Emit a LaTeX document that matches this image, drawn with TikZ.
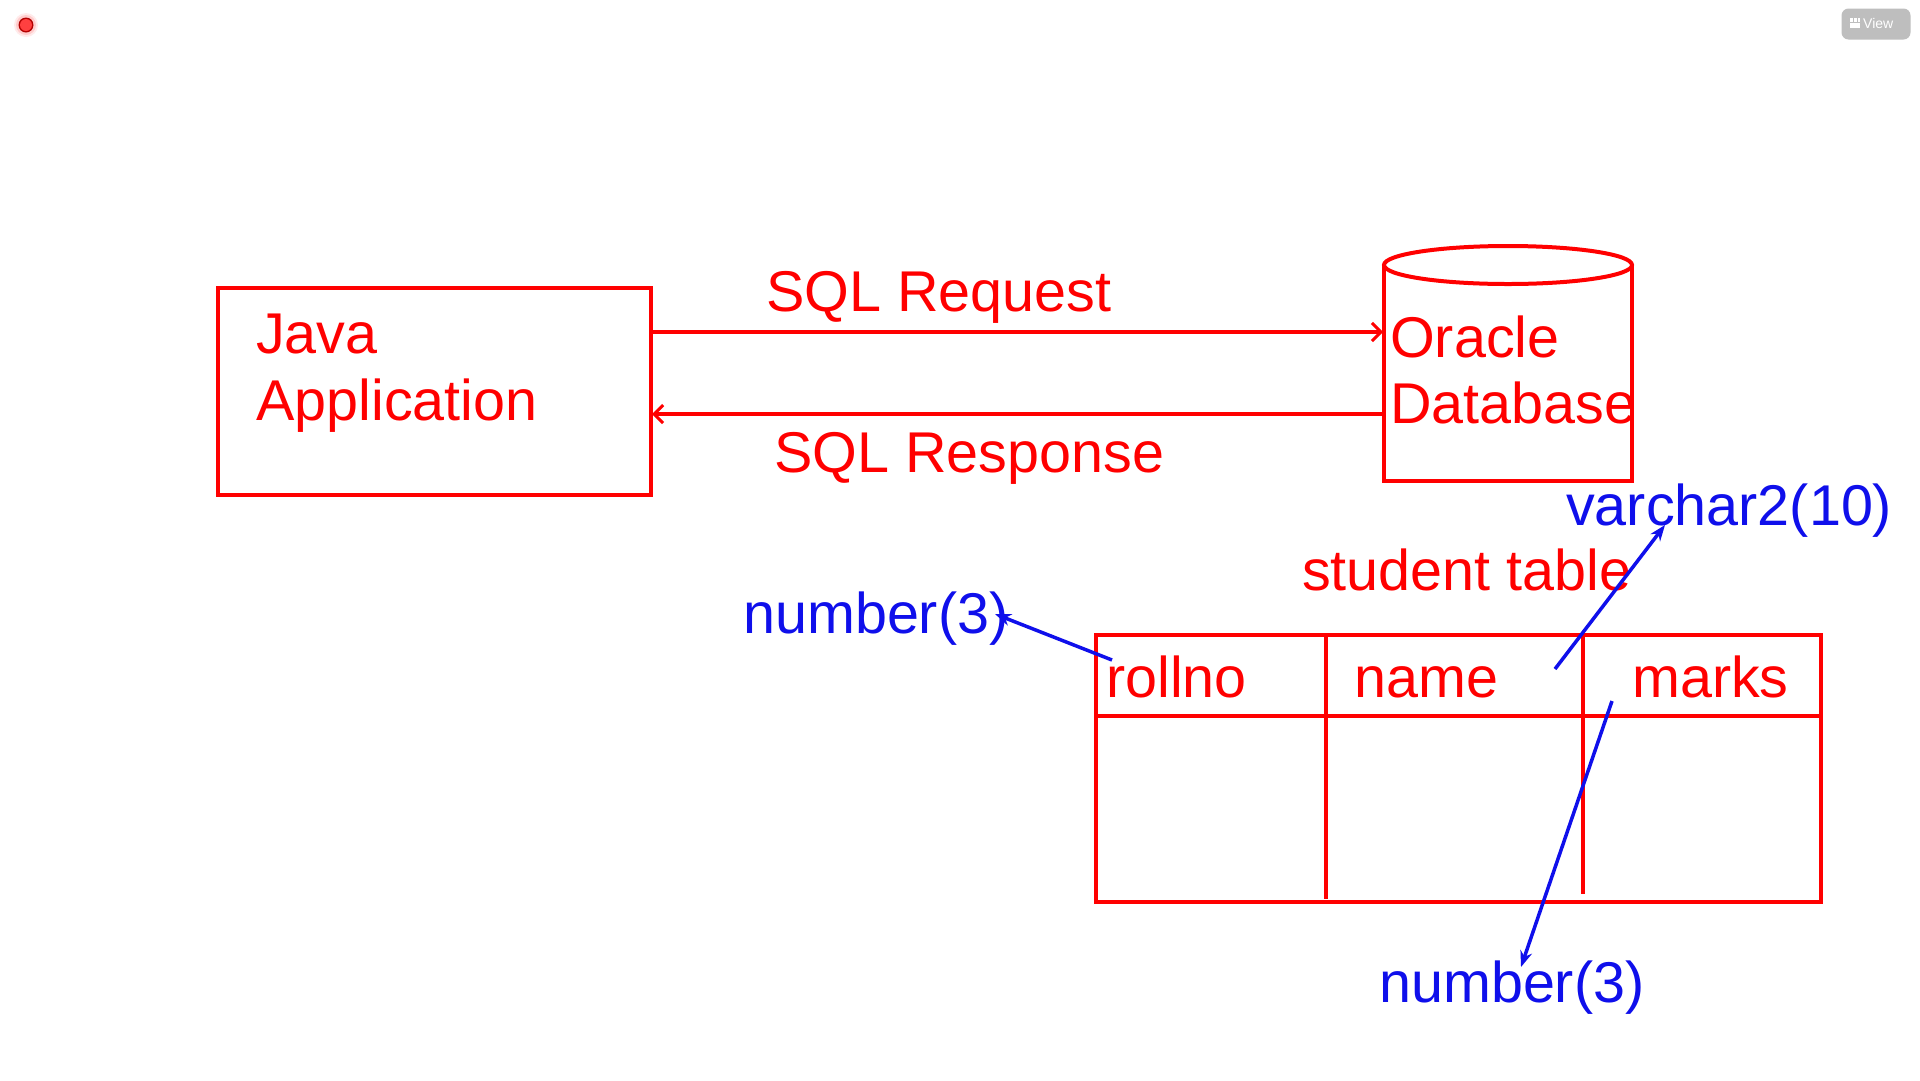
\documentclass[tikz,border=0pt]{standalone}
\usepackage{fontspec}
\setmainfont{Liberation Sans}
\usetikzlibrary{arrows.meta,calc}
\definecolor{dred}{RGB}{255,0,0}
\definecolor{dblue}{RGB}{15,15,235}
\definecolor{btngray}{RGB}{190,190,190}
\begin{document}
\begin{tikzpicture}[x=1pt,y=-1pt,
  redline/.style={draw=dred,line width=4pt},
  blueline/.style={draw=dblue,line width=3.5pt},
  redarrow/.style={redline,-{Straight Barb[length=9pt,width=18pt,line width=3pt]}},
  bluearrow/.style={blueline,-{Stealth[length=16pt,width=12pt]}},
  lbl/.style={anchor=base west,inner sep=0pt,font=\fontsize{57.5}{67}\selectfont},
  redlbl/.style={lbl,text=dred},
  bluelbl/.style={lbl,text=dblue}]
\useasboundingbox (0,0) rectangle (1920,1080);
\fill[white] (0,0) rectangle (1920,1080);
% window decorations
\fill[red!8] (26,25) circle (12);
\fill[red!20] (26,25) circle (10);
\fill[red!70!black] (26,25) circle (7.5);
\fill[red!75!white] (26,25) circle (6);
\node[fill=btngray,rounded corners=7pt,minimum width=69pt,minimum height=31pt,inner sep=0pt] (viewbtn) at (1876,24) {};
\node[anchor=west,inner sep=0pt,text=white,font=\fontsize{14}{16}\selectfont] (viewtxt) at (1863,23) {View};
\fill[white] (1850,18) rectangle (1860,28);
\fill[btngray] (1853,18) rectangle (1853.8,21.5);
\fill[btngray] (1856.5,18) rectangle (1857.3,21.5);
\fill[btngray] (1850,21.5) rectangle (1860,22.3);
% Java application box
\node[redline,rectangle,anchor=north west,minimum width=433pt,minimum height=207pt,inner sep=0pt] (java) at (216,285.5) {};
\node[redlbl] (javat1) at (256,353) {Java};
\node[redlbl] (javat2) at (256,420) {Application};
% Oracle database cylinder
\coordinate (dbtl) at (1384,265);
\coordinate (dbbr) at (1632,481);
\draw[redline] (dbtl) -- (1384,481) -- (dbbr) -- (1632,265);
\draw[redline] (1508,265) ellipse (124 and 19);
\node[redlbl] (oracle) at (1390,357) {Oracle};
\node[redlbl] (database) at (1390,423) {Database};
% request / response
\coordinate (reqS) at (651,332);
\coordinate (reqE) at (1383,332);
\coordinate (resS) at (1384,414);
\coordinate (resE) at (652,414);
\draw[redarrow] (reqS) -- (reqE);
\draw[redarrow] (resS) -- (resE);
\node[redlbl] (sqlreq) at (766,311) {SQL Request};
\node[redlbl] (sqlres) at (774,472) {SQL Response};
% student table
\node[redlbl] (stable) at (1302,590) {student table};
\node[redline,rectangle,anchor=north west,minimum width=725pt,minimum height=267pt,inner sep=0pt] (tbl) at (1094,633) {};
\draw[redline] (1096,716) -- (1821,716);
\draw[draw=dred,line width=3.5pt] (1326,635) -- (1326,899);
\draw[draw=dred,line width=3.5pt] (1583,635) -- (1583,894);
\node[redlbl] (rollno) at (1106,697) {rollno};
\node[redlbl] (name) at (1354,697) {name};
\node[redlbl] (marks) at (1632,697) {marks};
% data type annotations
\node[bluelbl] (num1) at (743,633) {number(3)};
\node[bluelbl] (varc) at (1566,525) {varchar2(10)};
\node[bluelbl] (num2) at (1379,1002) {number(3)};
\coordinate (a1s) at (1112,660);
\coordinate (a1e) at (995,614);
\coordinate (a2s) at (1555,669);
\coordinate (a2e) at (1665,525);
\coordinate (a3s) at (1612,701);
\coordinate (a3e) at (1521,967);
\draw[bluearrow] (a1s) -- (a1e);
\draw[bluearrow] (a2s) -- (a2e);
\draw[bluearrow] (a3s) -- (a3e);
\end{tikzpicture}
\end{document}
